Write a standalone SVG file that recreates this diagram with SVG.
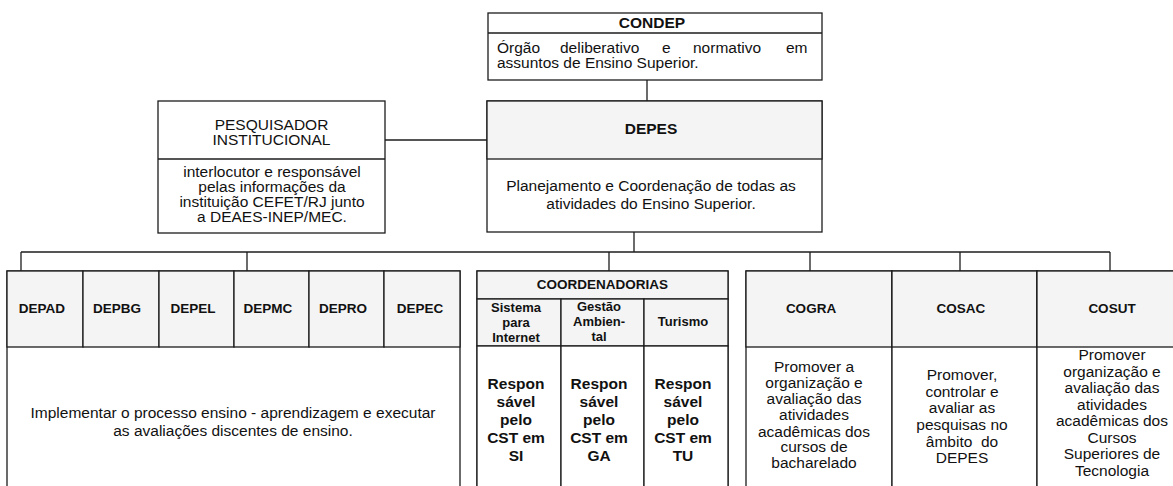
<svg xmlns="http://www.w3.org/2000/svg" width="1173" height="486" viewBox="0 0 1173 486">
<style>
.box{fill:#ffffff;stroke:#1c1c1c;stroke-width:1.3}
.hd{fill:#f4f4f4;stroke:#1c1c1c;stroke-width:1.3}
.ln{stroke:#1c1c1c;stroke-width:1.3;fill:none}
.t{font-family:"Liberation Sans",Arial,Helvetica,sans-serif;font-size:15.5px;fill:#111;text-anchor:middle}
.l{text-anchor:start}
.b{font-weight:bold}
.s{font-size:13.5px}
.xs{font-size:13px}
</style>
<rect width="1173" height="486" fill="#ffffff"/>

<g id="connectors">
  <line class="ln" x1="647" y1="80" x2="647" y2="101"/>
  <line class="ln" x1="385" y1="140" x2="487" y2="140"/>
  <line class="ln" x1="634" y1="232" x2="634" y2="252"/>
  <line class="ln" x1="21" y1="252" x2="1110" y2="252"/>
  <line class="ln" x1="21" y1="252" x2="21" y2="271"/>
  <line class="ln" x1="247" y1="252" x2="247" y2="271"/>
  <line class="ln" x1="609" y1="252" x2="609" y2="271"/>
  <line class="ln" x1="810" y1="252" x2="810" y2="271"/>
  <line class="ln" x1="960" y1="252" x2="960" y2="271"/>
  <line class="ln" x1="1110" y1="252" x2="1110" y2="271"/>
</g>

<g id="condep">
  <rect class="box" x="488" y="13" width="334" height="67"/>
  <line class="ln" x1="488" y1="33" x2="822" y2="33"/>
  <text class="t b" x="652" y="28">CONDEP</text>
  <text class="t l" y="53"><tspan x="497">Órgão</tspan><tspan x="560">deliberativo</tspan><tspan x="662">e</tspan><tspan x="693">normativo</tspan><tspan x="786">em</tspan></text>
  <text class="t l" x="497" y="68">assuntos de Ensino Superior.</text>
</g>

<g id="pesquisador">
  <rect class="box" x="158" y="101" width="227" height="132"/>
  <line class="ln" x1="158" y1="159" x2="385" y2="159"/>
  <text class="t" x="271.5" y="130">PESQUISADOR</text>
  <text class="t" x="271.5" y="145">INSTITUCIONAL</text>
  <text class="t" x="272" y="177">interlocutor e responsável</text>
  <text class="t" x="272" y="192">pelas informações da</text>
  <text class="t" x="272" y="207">instituição CEFET/RJ junto</text>
  <text class="t" x="272" y="222">a DEAES-INEP/MEC.</text>
</g>

<g id="depes">
  <rect class="box" x="487" y="101" width="335" height="131"/>
  <rect class="hd" x="487" y="101" width="335" height="58"/>
  <text class="t b" x="651" y="134">DEPES</text>
  <text class="t" x="651" y="191">Planejamento e Coordenação de todas as</text>
  <text class="t" x="651" y="209">atividades do Ensino Superior.</text>
</g>

<g id="departamentos">
  <rect class="box" x="7" y="271" width="453" height="230"/>
  <g id="depad"><rect class="hd" x="7" y="271" width="76" height="76"/><text class="t b s" x="42" y="313">DEPAD</text></g>
  <g id="depbg"><rect class="hd" x="83" y="271" width="76" height="76"/><text class="t b s" x="117" y="313">DEPBG</text></g>
  <g id="depel"><rect class="hd" x="159" y="271" width="75" height="76"/><text class="t b s" x="193" y="313">DEPEL</text></g>
  <g id="depmc"><rect class="hd" x="234" y="271" width="75" height="76"/><text class="t b s" x="268" y="313">DEPMC</text></g>
  <g id="depro"><rect class="hd" x="309" y="271" width="75" height="76"/><text class="t b s" x="343" y="313">DEPRO</text></g>
  <g id="depec"><rect class="hd" x="384" y="271" width="76" height="76"/><text class="t b s" x="420" y="313">DEPEC</text></g>
  <text class="t" x="233" y="418">Implementar o processo ensino - aprendizagem e executar</text>
  <text class="t" x="233" y="436">as avaliações discentes de ensino.</text>
</g>

<g id="coordenadorias">
  <rect class="box" x="477" y="271" width="251" height="230"/>
  <rect class="hd" x="477" y="271" width="251" height="28"/>
  <text class="t b s" x="602.5" y="289">COORDENADORIAS</text>
  <g id="coord-si">
    <rect class="hd" x="477" y="299" width="84" height="47"/>
    <rect class="box" x="477" y="346" width="84" height="155"/>
    <text class="t b xs" x="516" y="312">Sistema</text>
    <text class="t b xs" x="516" y="327">para</text>
    <text class="t b xs" x="516" y="342">Internet</text>
    <text class="t b" x="516" y="389">Respon</text>
    <text class="t b" x="516" y="407">sável</text>
    <text class="t b" x="516" y="425">pelo</text>
    <text class="t b" x="516" y="443">CST em</text>
    <text class="t b" x="516" y="461">SI</text>
  </g>
  <g id="coord-ga">
    <rect class="hd" x="561" y="299" width="83" height="47"/>
    <rect class="box" x="561" y="346" width="83" height="155"/>
    <text class="t b xs" x="599" y="311">Gestão</text>
    <text class="t b xs" x="599" y="326">Ambien-</text>
    <text class="t b xs" x="599" y="341">tal</text>
    <text class="t b" x="599" y="389">Respon</text>
    <text class="t b" x="599" y="407">sável</text>
    <text class="t b" x="599" y="425">pelo</text>
    <text class="t b" x="599" y="443">CST em</text>
    <text class="t b" x="599" y="461">GA</text>
  </g>
  <g id="coord-tu">
    <rect class="hd" x="644" y="299" width="84" height="47"/>
    <rect class="box" x="644" y="346" width="84" height="155"/>
    <text class="t b xs" x="683" y="326">Turismo</text>
    <text class="t b" x="683" y="389">Respon</text>
    <text class="t b" x="683" y="407">sável</text>
    <text class="t b" x="683" y="425">pelo</text>
    <text class="t b" x="683" y="443">CST em</text>
    <text class="t b" x="683" y="461">TU</text>
  </g>
</g>

<g id="cogra">
  <rect class="box" x="746" y="271" width="146" height="230"/>
  <rect class="hd" x="746" y="271" width="146" height="76"/>
  <text class="t b s" x="811" y="313">COGRA</text>
  <text class="t" x="814" y="372">Promover a</text>
  <text class="t" x="814" y="388">organização e</text>
  <text class="t" x="814" y="404">avaliação das</text>
  <text class="t" x="814" y="420">atividades</text>
  <text class="t" x="814" y="437">acadêmicas dos</text>
  <text class="t" x="814" y="452">cursos de</text>
  <text class="t" x="814" y="468">bacharelado</text>
</g>

<g id="cosac">
  <rect class="box" x="892" y="271" width="145" height="230"/>
  <rect class="hd" x="892" y="271" width="145" height="76"/>
  <text class="t b s" x="961" y="313">COSAC</text>
  <text class="t" x="962" y="380">Promover,</text>
  <text class="t" x="962" y="397">controlar e</text>
  <text class="t" x="962" y="413">avaliar as</text>
  <text class="t" x="962" y="430">pesquisas no</text>
  <text class="t" x="962" y="447" xml:space="preserve">âmbito  do</text>
  <text class="t" x="962" y="463">DEPES</text>
</g>

<g id="cosut">
  <rect class="box" x="1037" y="271" width="153" height="230"/>
  <rect class="hd" x="1037" y="271" width="153" height="76"/>
  <text class="t b s" x="1112" y="313">COSUT</text>
  <text class="t" x="1112" y="360">Promover</text>
  <text class="t" x="1112" y="376.5">organização e</text>
  <text class="t" x="1112" y="393">avaliação das</text>
  <text class="t" x="1112" y="409.5">atividades</text>
  <text class="t" x="1112" y="426">acadêmicas dos</text>
  <text class="t" x="1112" y="442.5">Cursos</text>
  <text class="t" x="1112" y="459">Superiores de</text>
  <text class="t" x="1112" y="475.5">Tecnologia</text>
</g>
</svg>
